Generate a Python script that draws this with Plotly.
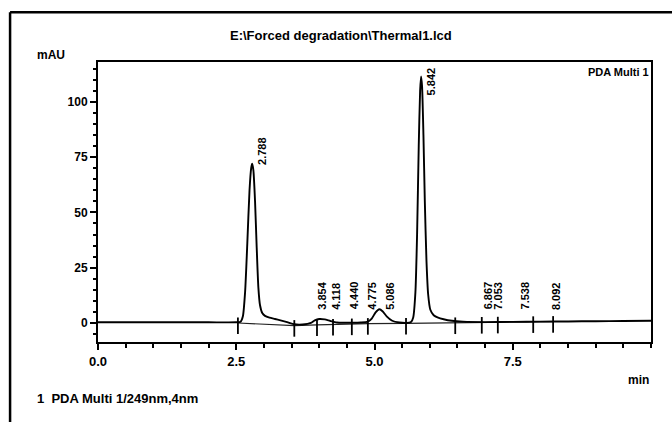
import plotly.graph_objects as go

# ---------------- data ----------------
time_min = [0.0, 1.0, 2.0, 2.5, 2.58, 2.62, 2.66, 2.70, 2.74, 2.77, 2.788, 2.81, 2.84, 2.87,
            2.90, 2.93, 2.97, 3.02, 3.10, 3.20, 3.30, 3.42, 3.55, 3.70, 3.85, 3.92, 4.00,
            4.10, 4.20, 4.32, 4.45, 4.60, 4.75, 4.88, 4.95, 5.02, 5.086, 5.15, 5.22, 5.32,
            5.45, 5.58, 5.66, 5.70, 5.74, 5.77, 5.80, 5.825, 5.842, 5.86, 5.885, 5.91,
            5.94, 5.97, 6.01, 6.07, 6.15, 6.25, 6.40, 6.60, 7.00, 7.50, 8.00, 8.50, 9.00,
            9.50, 10.0]
signal_mau = [0.3, 0.3, 0.3, 0.3, 0.6, 3.0, 14.0, 36.0, 60.0, 70.0, 72.0, 69.0, 55.0, 34.0,
              16.0, 8.0, 4.5, 3.2, 2.4, 1.8, 1.2, 0.4, -0.6, -0.7, 0.0, 1.2, 1.8,
              1.6, 0.9, 0.2, 0.1, 0.1, 0.2, 0.6, 2.0, 4.8, 6.2, 5.2, 3.0, 1.0,
              0.2, 0.0, 0.4, 2.5, 14.0, 40.0, 80.0, 105.0, 111.5, 107.0, 85.0, 55.0,
              28.0, 13.0, 6.0, 3.5, 2.4, 1.7, 1.0, 0.6, 0.4, 0.5, 0.6, 0.7, 0.8,
              0.9, 1.0]

# integration baseline drawn under the peaks
base_time = [2.53, 3.55, 3.96, 4.25, 4.59, 4.88, 5.57, 6.46, 6.94, 7.23, 7.87, 8.23]
base_mau = [0.0, -1.2, -0.9, -0.7, -0.5, -0.3, -0.2, 0.0, 0.2, 0.3, 0.5, 0.6]

# detected peaks
peak_rt = [2.788, 3.854, 4.118, 4.440, 4.775, 5.086, 5.842, 6.867, 7.053, 7.538, 8.092]
peak_label = ["2.788", "3.854", "4.118", "4.440", "4.775", "5.086", "5.842",
              "6.867", "7.053", "7.538", "8.092"]
peak_height = [72.0, 1.0, 1.8, 0.2, 0.4, 6.2, 111.5, 0.4, 0.4, 0.5, 0.6]

x_tick_vals = [0.0, 2.5, 5.0, 7.5]
x_tick_text = ["0.0", "2.5", "5.0", "7.5"]
y_tick_vals = [0, 25, 50, 75, 100]
y_tick_text = ["0", "25", "50", "75", "100"]

title_text = "E:\\Forced degradation\\Thermal1.lcd"
y_unit = "mAU"
x_unit = "min"
channel_text = "PDA Multi 1"
footer_text = "1  PDA Multi 1/249nm,4nm"

# ---------------- figure ----------------
FONT = "Liberation Sans"
Y_MIN, Y_MAX = -8.6, 118.0

fig = go.Figure()

fig.add_trace(go.Scatter(x=base_time, y=base_mau, mode="lines",
                         line=dict(color="#222", width=1.2), hoverinfo="skip"))
fig.add_trace(go.Scatter(x=time_min, y=signal_mau, mode="lines",
                         line=dict(color="#000", width=1.9, shape="spline", smoothing=0.6),
                         hoverinfo="skip"))

# integration boundary markers (vertical dashes through the baseline)
mx, my = [], []
for t, b in zip(base_time, base_mau):
    mx += [t, t, None]
    my += [b + 2.5, b - 5.0, None]
fig.add_trace(go.Scatter(x=mx, y=my, mode="lines",
                         line=dict(color="#000", width=1.8), hoverinfo="skip"))

lab_font = dict(family=FONT, size=11, color="#000", weight="bold")
annotations = []
for rt, lab, h in zip(peak_rt, peak_label, peak_height):
    if h + 20 > Y_MAX:
        annotations.append(dict(x=rt, y=Y_MAX - 1.5, xref="x", yref="y", text=lab,
                                textangle=-90, showarrow=False, xanchor="left",
                                yanchor="top", xshift=2, font=lab_font))
    else:
        annotations.append(dict(x=rt, y=max(h, 6.5), xref="x", yref="y", text=lab,
                                textangle=-90, showarrow=False, xanchor="left",
                                yanchor="bottom", xshift=2, yshift=-3, font=lab_font))

txt_font = dict(family=FONT, size=13, color="#000", weight="bold")
annotations += [
    dict(text=title_text, xref="paper", yref="paper", x=0.44, y=1.095,
         xanchor="center", yanchor="middle", showarrow=False, font=txt_font),
    dict(text=y_unit, xref="paper", yref="paper", x=-0.114, y=1.025,
         xanchor="left", yanchor="middle", showarrow=False,
         font=dict(family=FONT, size=12, color="#000", weight="bold")),
    dict(text=channel_text, xref="paper", yref="paper", x=1.0, y=0.965,
         xanchor="right", yanchor="middle", showarrow=False,
         font=dict(family=FONT, size=11, color="#000", weight="bold")),
    dict(text=x_unit, xref="paper", yref="paper", x=1.0, y=-0.135,
         xanchor="right", yanchor="middle", showarrow=False,
         font=dict(family=FONT, size=12, color="#000", weight="bold")),
    dict(text=footer_text, xref="paper", yref="paper", x=-0.114, y=-0.2,
         xanchor="left", yanchor="middle", showarrow=False, font=txt_font),
]

shapes = [
    # outer document frame (left and top)
    dict(type="line", xref="paper", yref="paper", x0=-0.159, x1=-0.159, y0=1.178, y1=-0.3,
         line=dict(color="#000", width=2.5)),
    dict(type="line", xref="paper", yref="paper", x0=-0.159, x1=1.05, y0=1.178, y1=1.178,
         line=dict(color="#000", width=2.5)),
]

fig.update_layout(
    width=672, height=422,
    margin=dict(l=98, r=21, t=62, b=80),
    paper_bgcolor="white", plot_bgcolor="white",
    showlegend=False,
    annotations=annotations,
    shapes=shapes,
    xaxis=dict(range=[0, 10], showgrid=False, zeroline=False,
               showline=True, linecolor="#000", linewidth=2, mirror=True,
               ticks="outside", ticklen=6, tickwidth=2, tickcolor="#000",
               tickvals=x_tick_vals, ticktext=x_tick_text,
               minor=dict(dtick=0.5, tick0=0, ticks="outside", ticklen=4,
                          tickwidth=1.5, tickcolor="#000"),
               tickfont=dict(family=FONT, size=13, color="#000", weight="bold")),
    yaxis=dict(range=[Y_MIN, Y_MAX], showgrid=False, zeroline=False,
               showline=True, linecolor="#000", linewidth=2, mirror=True,
               ticks="outside", ticklen=6, tickwidth=2, tickcolor="#000",
               tickvals=y_tick_vals, ticktext=y_tick_text,
               minor=dict(dtick=5, tick0=0, ticks="outside", ticklen=3,
                          tickwidth=1.5, tickcolor="#000"),
               tickfont=dict(family=FONT, size=12, color="#000", weight="bold")),
)

fig.write_html("out.html")
